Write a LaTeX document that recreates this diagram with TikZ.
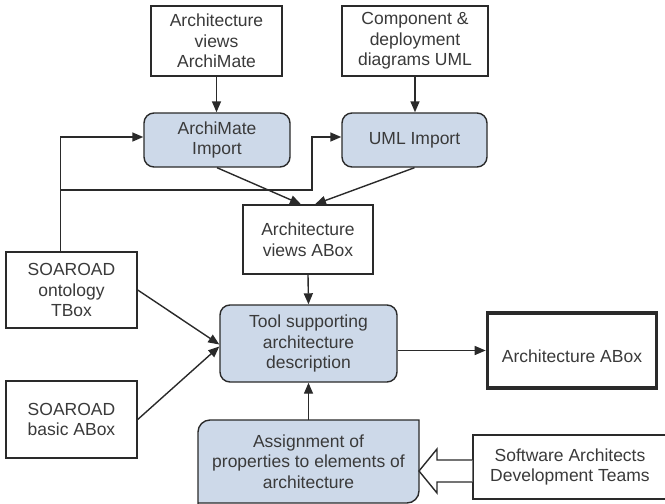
\documentclass[tikz,border=0pt]{standalone}
\usepackage{fontspec}
\setmainfont{Liberation Sans}
\usetikzlibrary{arrows.meta,calc}
\definecolor{boxfill}{HTML}{CDD9E9}
\definecolor{ink}{HTML}{2A2A2A}
\definecolor{txt}{HTML}{3A3A3A}
\begin{document}
\begin{tikzpicture}[x=1pt,y=-1pt,
  every node/.style={font=\fontsize{17.5}{20.5}\selectfont, text=txt, align=center, inner sep=0pt},
  plainbox/.style={draw=ink, line width=1.4pt, fill=white, rectangle},
  procbox/.style={draw=ink, line width=1.4pt, fill=boxfill, rounded corners=10pt},
  thickbox/.style={draw=ink, line width=3.6pt, fill=white, rectangle},
  conn/.style={draw=ink, line width=1.4pt, -{Triangle[length=11pt,width=9pt]}},
  hollow/.style={draw=ink, line width=1.4pt, fill=white, line join=miter}
]
\useasboundingbox (0,0) rectangle (665,504);
\clip (0,0) rectangle (665,504);

% top inputs
\node[plainbox, minimum width=131pt, minimum height=70pt] (av) at (216.5,41) {Architecture\\views\\ArchiMate};
\node[plainbox, minimum width=146pt, minimum height=70pt] (cd) at (415,41) {Component \&\\deployment\\diagrams UML};

% import processes
\node[procbox, minimum width=146pt, minimum height=54pt] (ai) at (217,140) {ArchiMate\\Import};
\node[procbox, minimum width=145pt, minimum height=54pt] (ui) at (414.5,140) {UML Import};

% views ABox
\node[plainbox, minimum width=130pt, minimum height=69pt] (vab) at (308,239.5) {Architecture\\views ABox};

% SOAROAD boxes
\node[plainbox, minimum width=131pt, minimum height=76pt] (sot) at (71.5,290) {SOAROAD\\ontology\\TBox};
\node[plainbox, minimum width=131pt, minimum height=77pt] (sba) at (71.5,419.5) {SOAROAD\\basic ABox};

% tool
\node[procbox, minimum width=177pt, minimum height=77pt] (tool) at (308.5,343.5) {Tool supporting\\architecture\\description};

% architecture ABox (output)
\node[thickbox, minimum width=169pt, minimum height=75pt] (aab) at (572,350.5) {};
\node (aabt) at (572,356) {Architecture ABox};

% assignment (custom rounded shape)
\filldraw[fill=boxfill, draw=ink, line width=1.4pt]
  (198,506) -- (198,432) .. controls (198,425.4) and (203.4,420) .. (210,420)
  -- (419,420) -- (419,491) .. controls (419,497.6) and (413.6,503) .. (407,503) -- (198,503);
\node[minimum width=221pt, minimum height=83pt] (asg) at (308.5,461.5) {Assignment of\\properties to elements of\\architecture};

% software architects (cut off at right edge)
\node[plainbox, minimum width=194pt, minimum height=64pt] (sw) at (570,467) {Software Architects\\Development Teams};

% connectors
\draw[conn] (av.south) -- (av.south |- ai.north);
\draw[conn] (cd.south) -- (cd.south |- ui.north);
\draw[conn] ([xshift=55pt]sot.north west) |- ([yshift=3pt]ai.west);
\coordinate (j1) at (61,190);
\coordinate (j2) at (312,190);
\draw[conn] (j1) -- (j2) |- ([yshift=3pt]ui.west);
\draw[conn] (ai.south) -- ([xshift=-7pt]vab.north);
\draw[conn] (ui.south) -- ([xshift=7pt]vab.north);
\draw[conn] (vab.south) -- (tool.north);
\draw[conn] (sot.east) -- ([yshift=-1pt]tool.west);
\draw[conn] (sba.east) -- ([yshift=-3pt]tool.west);
\draw[conn] (tool.east |- aab.west) -- (aab.west);
\draw[conn] (asg.north) -- (tool.south);

% hollow block arrow from software architects to assignment
\coordinate (tipc) at (419,471);
\draw[hollow] (sw.west |- 0,460) -- (437,460) -- (437,449) -- (tipc) -- (437,493) -- (437,482) -- (sw.west |- 0,482);
\end{tikzpicture}
\end{document}
